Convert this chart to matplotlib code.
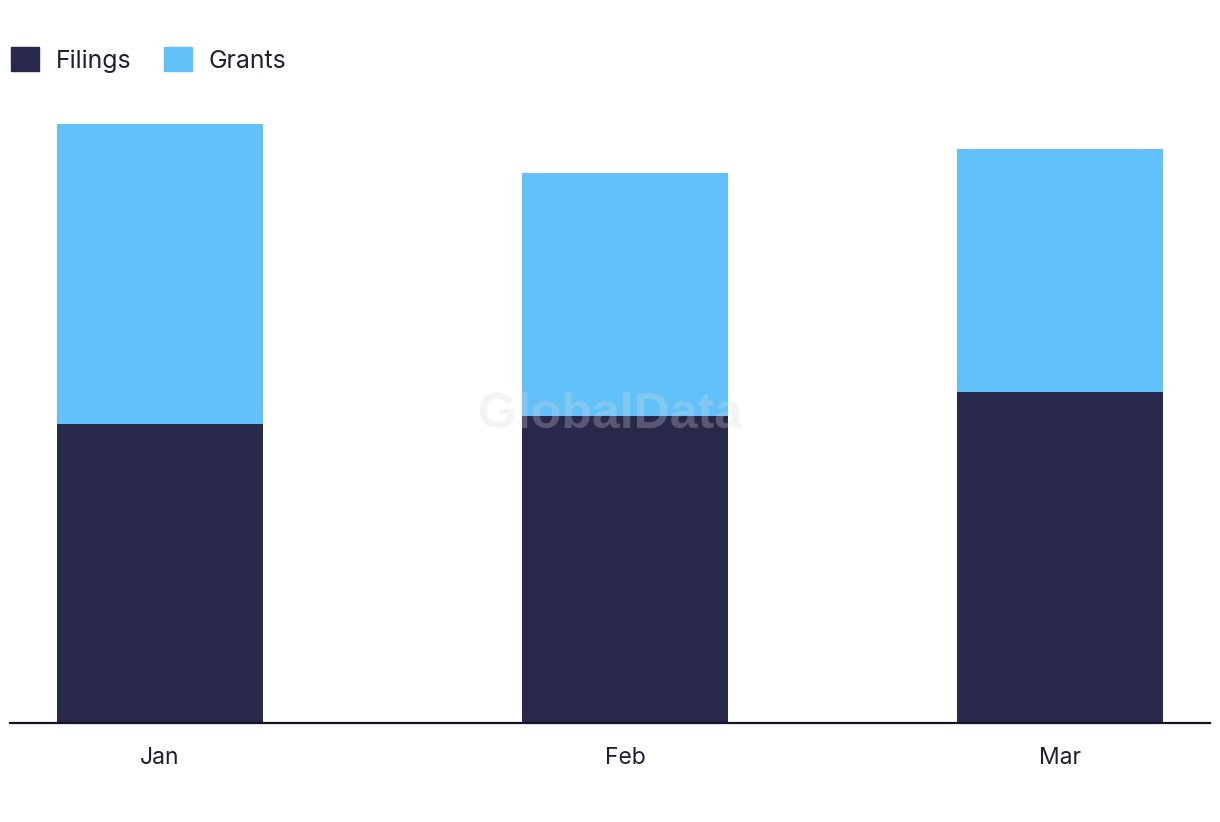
import datetime as dt
import matplotlib
matplotlib.use("Agg")
import matplotlib.pyplot as plt
import matplotlib.dates as mdates
from matplotlib.patches import Patch

plt.rcParams['font.family'] = ['Inter', 'DejaVu Sans']

months = [dt.date(2024, 1, 1), dt.date(2024, 2, 1), dt.date(2024, 3, 1)]
month_labels = ["Jan", "Feb", "Mar"]
filings = [299, 307, 331]
grants = [300, 243, 243]

dark = "#28284b"
light = "#62c1f8"
text_col = "#1f1f33"

fig = plt.figure(figsize=(12.2, 8.22), dpi=100)
ax = fig.add_axes([10 / 1220, 99 / 822, 1200 / 1220, 623 / 822])

width = 13.7
ax.bar(months, filings, width=width, color=dark, zorder=2)
ax.bar(months, grants, width=width, bottom=filings, color=light, zorder=2)

ax.set_xlim(dt.date(2023, 12, 22), dt.date(2024, 3, 11))
ax.set_ylim(0, 623)
ax.set_xticks(months)
ax.set_xticklabels(month_labels)
ax.tick_params(axis='x', length=0, pad=17, labelsize=16.5, labelcolor=text_col)
ax.set_yticks([])
for s in ["top", "right", "left"]:
    ax.spines[s].set_visible(False)
ax.spines["bottom"].set_color("#15152a")
ax.spines["bottom"].set_linewidth(1.6)
ax.spines["bottom"].set_zorder(3)

ax.text(0.5, 0.495, "GlobalData", transform=ax.transAxes, ha='center', va='center',
        fontsize=36, fontweight='bold', family='Liberation Sans',
        color='#d8d8d8', alpha=0.28, zorder=4)

handles = [Patch(color=dark, label="Filings"), Patch(color=light, label="Grants")]
fig.legend(handles=handles, loc='upper left', bbox_to_anchor=(-0.0066, 0.966),
           ncol=2, frameon=False, fontsize=17.9, labelcolor=text_col,
           handlelength=1.125, handleheight=1.125, handletextpad=0.68,
           columnspacing=1.29, borderaxespad=0.37)

fig.savefig("out.png", dpi=100)
